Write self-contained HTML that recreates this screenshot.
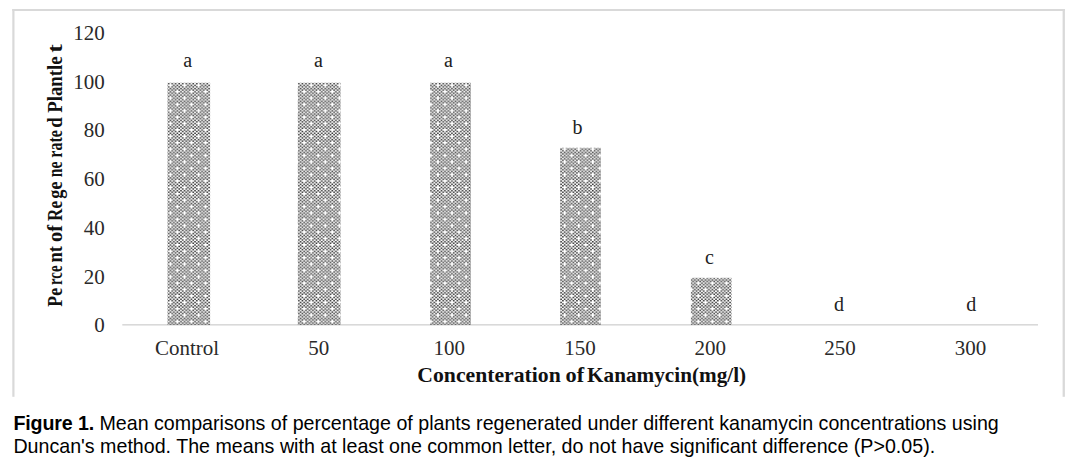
<!DOCTYPE html>
<html>
<head>
<meta charset="utf-8">
<style>
html,body{margin:0;padding:0;background:#fff;width:1078px;height:467px;overflow:hidden;}
body{position:relative;}
svg{position:absolute;left:0;top:0;}
.cap{position:absolute;left:13.4px;top:411.5px;font-family:"Liberation Sans",sans-serif;font-size:19.65px;line-height:23.2px;color:#000;white-space:nowrap;}
.cap b{font-weight:bold;letter-spacing:-0.14px;}
</style>
</head>
<body>
<svg width="1078" height="400" viewBox="0 0 1078 400">
  <defs>
    <pattern id="chk" patternUnits="userSpaceOnUse" x="167.76" y="82.9" width="14.080" height="12.770"><path fill="#383838" d="M0.080 0.073h1.6v1.45h-1.6zM0.080 3.266h1.6v1.45h-1.6zM0.080 6.458h1.6v1.45h-1.6zM0.080 9.651h1.6v1.45h-1.6zM1.840 4.862h1.6v1.45h-1.6zM1.840 8.055h1.6v1.45h-1.6zM1.840 11.247h1.6v1.45h-1.6zM3.600 0.073h1.6v1.45h-1.6zM3.600 3.266h1.6v1.45h-1.6zM3.600 6.458h1.6v1.45h-1.6zM3.600 9.651h1.6v1.45h-1.6zM5.360 1.669h1.6v1.45h-1.6zM5.360 4.862h1.6v1.45h-1.6zM5.360 8.055h1.6v1.45h-1.6zM5.360 11.247h1.6v1.45h-1.6zM7.120 0.073h1.6v1.45h-1.6zM7.120 3.266h1.6v1.45h-1.6zM7.120 6.458h1.6v1.45h-1.6zM7.120 9.651h1.6v1.45h-1.6zM8.880 1.669h1.6v1.45h-1.6zM8.880 4.862h1.6v1.45h-1.6zM8.880 11.247h1.6v1.45h-1.6zM10.640 0.073h1.6v1.45h-1.6zM10.640 3.266h1.6v1.45h-1.6zM10.640 6.458h1.6v1.45h-1.6zM10.640 9.651h1.6v1.45h-1.6zM12.400 1.669h1.6v1.45h-1.6zM12.400 4.862h1.6v1.45h-1.6zM12.400 8.055h1.6v1.45h-1.6zM12.400 11.247h1.6v1.45h-1.6z"/></pattern>
  </defs>
  <!-- frame -->
  <rect x="12.3" y="9" width="2.2" height="387.8" fill="#d9d9d9"/>
  <rect x="12.3" y="9" width="1052.7" height="2" fill="#d9d9d9"/>
  <rect x="1062.6" y="9" width="2.3" height="387.8" fill="#d9d9d9"/>
  <!-- axis line -->
  <rect x="122.3" y="324" width="915.7" height="1.6" fill="#d9d9d9"/>
  <!-- bars -->
  <g fill="url(#chk)">
    <rect x="167.5" y="82.8" width="42.6" height="242.2"/>
    <rect x="297.8" y="82.8" width="42.8" height="242.2"/>
    <rect x="430" y="82.8" width="41" height="242.2"/>
    <rect x="560" y="147.8" width="40.9" height="177.2"/>
    <rect x="690.9" y="277.8" width="40.6" height="47.2"/>
  </g>
  <!-- y labels -->
  <g font-family="Liberation Serif" font-size="21" fill="#2a2a2a" text-anchor="end">
    <text x="104.8" y="39.8">120</text>
    <text x="104.8" y="88.55">100</text>
    <text x="104.8" y="137.3">80</text>
    <text x="104.8" y="186.05">60</text>
    <text x="104.8" y="234.8">40</text>
    <text x="104.8" y="283.55">20</text>
    <text x="104.8" y="332.3">0</text>
  </g>
  <!-- x labels -->
  <g font-family="Liberation Serif" font-size="21" fill="#2a2a2a" text-anchor="middle">
    <text x="187.05" y="354.8">Control</text>
    <text x="318.85" y="354.8">50</text>
    <text x="449.2" y="354.8">100</text>
    <text x="580" y="354.8">150</text>
    <text x="710.2" y="354.8">200</text>
    <text x="840" y="354.8">250</text>
    <text x="970.5" y="354.8">300</text>
  </g>
  <!-- letters -->
  <g font-family="Liberation Serif" font-size="20" fill="#222" text-anchor="middle">
    <text x="187.7" y="67">a</text>
    <text x="318.5" y="67">a</text>
    <text x="448.5" y="67">a</text>
    <text x="577.5" y="133.7">b</text>
    <text x="709.4" y="263.5">c</text>
    <text x="839.1" y="311.2">d</text>
    <text x="971.3" y="311.4">d</text>
  </g>
  <!-- x title -->
  <g font-family="Liberation Serif" font-weight="bold" font-size="21" fill="#111">
    <text x="417.3" y="381.5" textLength="143.4" lengthAdjust="spacingAndGlyphs">Concenteration</text>
    <text x="565.5" y="381.5" textLength="18.6" lengthAdjust="spacingAndGlyphs">of</text>
    <text x="587.1" y="381.5" textLength="159" lengthAdjust="spacingAndGlyphs">Kanamycin(mg/l)</text>
  </g>
  <!-- y title -->
  <g transform="translate(61.8,0) rotate(-90)" font-family="Liberation Serif" font-weight="bold" font-size="22" fill="#111">
    <text x="-306.7" y="0" textLength="18.7" lengthAdjust="spacingAndGlyphs">Pe</text>
    <text x="-285.0" y="0" textLength="19.5" lengthAdjust="spacingAndGlyphs">rce</text>
    <text x="-262.5" y="0" textLength="16.5" lengthAdjust="spacingAndGlyphs">nt</text>
    <text x="-242.0" y="0" textLength="17.0" lengthAdjust="spacingAndGlyphs">of</text>
    <text x="-221.0" y="0" textLength="20.0" lengthAdjust="spacingAndGlyphs">Re</text>
    <text x="-198.7" y="0" textLength="17.2" lengthAdjust="spacingAndGlyphs">ge</text>
    <text x="-177.2" y="0" textLength="15.7" lengthAdjust="spacingAndGlyphs">ne</text>
    <text x="-157.7" y="0" textLength="27.7" lengthAdjust="spacingAndGlyphs">rate</text>
    <text x="-127.7" y="0" textLength="10.5" lengthAdjust="spacingAndGlyphs">d</text>
    <text x="-112.8" y="0" textLength="56.5" lengthAdjust="spacingAndGlyphs">Plantle</text>
    <text x="-52.8" y="0" textLength="8.5" lengthAdjust="spacingAndGlyphs">t</text>
  </g>
</svg>
<div class="cap"><b>Figure 1.</b> Mean comparisons of percentage of plants regenerated under different kanamycin concentrations using<br>Duncan's method. The means with at least one common letter, do not have significant difference (P&gt;0.05).</div>
</body>
</html>
